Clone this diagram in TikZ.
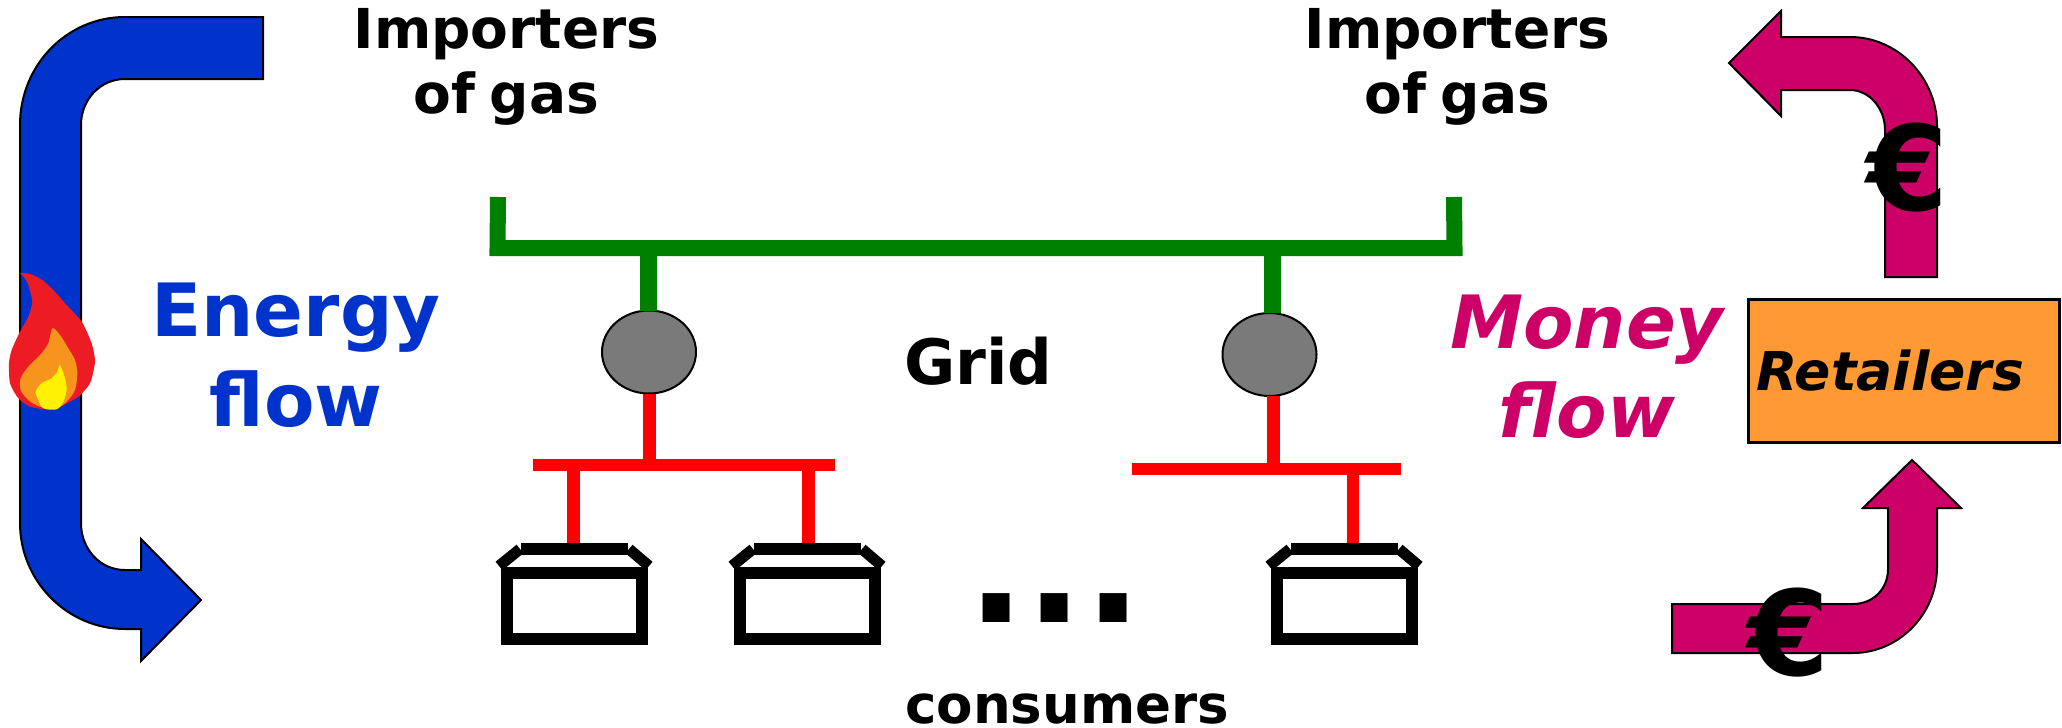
\documentclass[tikz,border=0pt]{standalone}
\usepackage{fontspec}
\setmainfont{DejaVu Sans}
\usetikzlibrary{shapes.geometric}
\definecolor{eblue}{HTML}{0033CC}
\definecolor{money}{HTML}{CC0066}
\definecolor{retail}{HTML}{FF9933}
\definecolor{gridgreen}{HTML}{008000}
\definecolor{subgray}{HTML}{7A7A7A}
\definecolor{flamered}{HTML}{ED1C24}
\definecolor{flameorange}{HTML}{F7941D}
\definecolor{flameyellow}{HTML}{FFF200}
\newdimen\lineskipamt
\newcommand{\fsz}[1]{\lineskipamt=#1pt \lineskipamt=1.164\lineskipamt \fontsize{#1}{\the\lineskipamt}\selectfont}
\tikzset{
  bigarrow/.style={draw=black,line width=2pt,line join=miter},
  greenbus/.style={draw=gridgreen,line width=16pt,line join=miter},
  greendrop/.style={draw=gridgreen,line width=17pt},
  redbus/.style={draw=red,line width=12pt},
  reddrop/.style={draw=red,line width=13pt},
  substation/.style={draw=black,line width=2pt,fill=subgray,ellipse,minimum width=94pt,minimum height=83pt,inner sep=0pt,outer sep=0pt},
  housebody/.style={draw=black,line width=12pt,rectangle,minimum width=135pt,minimum height=66pt,inner sep=0pt,outer sep=0pt},
  roofline/.style={draw=black,line width=12pt},
  label/.style={font=\bfseries\fsz{55},align=center,anchor=base,inner sep=0pt,text=black},
  flowlabel/.style={align=center,anchor=base,inner sep=0pt},
  eurosign/.style={font=\bfseries\fsz{118},anchor=base,inner sep=0pt,text=black}
}
\newcommand{\roofat}[1]{%
  \draw[roofline] (#1+20,549) -- (#1+127,549);
  \draw[roofline,line width=11pt] (#1-2,566) -- (#1+19,549);
  \draw[roofline,line width=11pt] (#1+128,549) -- (#1+148,566);
}
\begin{document}
\begin{tikzpicture}[x=1pt,y=-1pt]
\useasboundingbox (0,0) rectangle (2062,728);
% Energy arrow
\path[bigarrow,fill=eblue] (263,17) -- (125,17) .. controls (67,17) and (20,65) .. (20,125)
  -- (20,523) .. controls (20,581) and (67,629) .. (125,629) -- (141,629) -- (141,661) -- (201,600)
  -- (141,539) -- (141,570) -- (125,570) .. controls (100,570) and (81,549) .. (81,523)
  -- (81,125) .. controls (81,100) and (100,79) .. (125,79) -- (263,79) -- cycle;
% Flame
\begin{scope}[shift={(0,250)},x=0.3333pt,y=-0.3333pt]
\fill[flamered] (60,70) .. controls (80,66) and (105,75) .. (130,92)
  -- plot[smooth,tension=.4] coordinates {(130,92) (160,120) (200,165) (245,215) (275,280) (285,335) (270,400) (235,440) (180,470) (140,478) (90,470) (55,445) (30,400) (27,340) (35,300) (60,245) (85,200) (97,155) (85,105)}
  .. controls (80,90) and (70,78) .. (60,70) -- cycle;
\fill[flameorange] plot[smooth cycle,tension=.5] coordinates {(157,235) (180,255) (205,295) (225,330) (232,370) (225,420) (200,455) (170,475) (120,470) (85,450) (62,420) (62,385) (85,350) (120,315) (145,280)};
\fill[flameyellow] plot[smooth cycle,tension=.5] coordinates {(180,345) (195,385) (200,420) (190,455) (170,478) (130,475) (115,450) (107,425) (125,400) (155,385) (172,365)};
\end{scope}
% Money arrows
\path[bigarrow,fill=money] (1729,63) -- (1781,11) -- (1781,37) -- (1850,37) .. controls (1898,37) and (1937,78) .. (1937,126)
  -- (1937,277) -- (1885,277) -- (1885,130) .. controls (1885,108) and (1869,90) .. (1850,90) -- (1781,90) -- (1781,116) -- cycle;
\path[bigarrow,fill=money] (1672,604) -- (1853,604) .. controls (1873,604) and (1888,589) .. (1888,569) -- (1888,508) -- (1863,508)
  -- (1912,460) -- (1961,508) -- (1937,508) -- (1937,567) .. controls (1937,614) and (1899,653) .. (1853,653) -- (1672,653) -- cycle;
% Grid
\coordinate (gl) at (497.5,248);
\coordinate (gr) at (1454.5,248);
\coordinate (gltop) at (498,197);
\coordinate (grtop) at (1454,197);
\coordinate (g1) at (648.5,248);
\coordinate (g2) at (1272.5,248);
\node[substation] (sub1) at (649,352) {};
\node[substation] (sub2) at (1269.5,354.5) {};
\draw[greenbus] (gltop) -- (gl) -- (gr) -- (grtop);
\draw[greendrop] (g1) -- (g1 |- sub1.north);
\draw[greendrop] (g2) -- (g2 |- sub2.north);
% Red buses
\coordinate (r1l) at (533,465);
\coordinate (r1r) at (835,465);
\coordinate (r1m) at (649,465);
\coordinate (r1a) at (573.5,465);
\coordinate (r1b) at (808.5,465);
\coordinate (r2l) at (1132,469);
\coordinate (r2r) at (1401,469);
\coordinate (r2m) at (1273.5,469);
\coordinate (r2a) at (1353,469);
\node[housebody] (h1) at (574.5,606) {};
\node[housebody] (h2) at (807.5,606) {};
\node[housebody] (h3) at (1344.5,606) {};
\coordinate (rt) at (0,544);
\draw[redbus] (r1l) -- (r1r);
\draw[redbus] (r2l) -- (r2r);
\draw[reddrop] (sub1.south) -- (r1m);
\draw[reddrop] (r2m |- sub2.south) -- (r2m);
\draw[reddrop] (r1a) -- (r1a |- rt);
\draw[reddrop] (r1b) -- (r1b |- rt);
\draw[redbus] (r2a) -- (r2a |- rt);
\roofat{501}
\roofat{734}
\roofat{1271}
% Retailers
\node[draw=black,line width=3pt,fill=retail,minimum width=311pt,minimum height=143pt,inner sep=0pt,outer sep=0pt] (ret) at (1904,370.5) {};
\node[anchor=base west,inner sep=0pt,font=\bfseries\itshape\fsz{53.5}] (rettext) at (1756,390) {Retailers};
% Labels
\node[label] (imp1) at (506.5,113) {Importers\\of\kern-5pt{} gas};
\node[label] (imp2) at (1457.5,113) {Importers\\of\kern-5pt{} gas};
\node[flowlabel,font=\bfseries\fontsize{73.5}{90}\selectfont,text=eblue] (energy) at (296,426) {Energy\\flow};
\node[flowlabel,font=\bfseries\itshape\fontsize{73.5}{89}\selectfont,text=money] (moneyl) at (1587,437) {Money\\flow};
\node[label,font=\bfseries\fsz{62.5}] (gridl) at (978.5,384) {Grid};
\node[label,font=\bfseries\fsz{53}] (cons) at (1067,723.5) {consumers};
\node[label,font=\bfseries\fsz{153}] (dots) at (1055,622) {...};
\node[eurosign] (eu1) at (1908,210) {€};
\node[eurosign] (eu2) at (1789,675) {€};
\end{tikzpicture}
\end{document}
